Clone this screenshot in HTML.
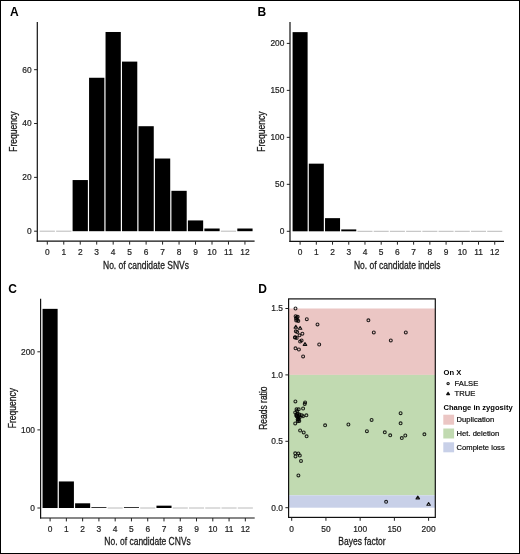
<!DOCTYPE html>
<html><head><meta charset="utf-8"><style>
html,body{margin:0;padding:0;background:#fff;}
body{width:520px;height:554px;overflow:hidden;}
svg{display:block;will-change:transform;}
text{font-family:"Liberation Sans", sans-serif;fill:#1a1a1a;}
.tk{font-size:8.4px;fill:#222;stroke:#222;stroke-width:0.2px;}
.ti{font-size:10.5px;stroke:#1a1a1a;stroke-width:0.28px;}
.lab{font-size:12px;font-weight:bold;fill:#000;}
.lg{font-size:7.6px;fill:#111;stroke:#111;stroke-width:0.22px;}
.lgb{font-size:7.6px;font-weight:bold;fill:#000;}
</style></head><body>
<svg width="520" height="554" viewBox="0 0 520 554">
<rect x="0" y="0" width="520" height="554" fill="#fff"/>
<line x1="39.66" y1="231.2" x2="54.93" y2="231.2" stroke="#a8a8a8" stroke-width="0.8"/>
<line x1="56.13" y1="231.2" x2="71.41" y2="231.2" stroke="#a8a8a8" stroke-width="0.8"/>
<rect x="72.6" y="180.05" width="15.27" height="51.15" fill="#000"/>
<rect x="89.07" y="77.76" width="15.27" height="153.44" fill="#000"/>
<rect x="105.54" y="31.99" width="15.27" height="199.21" fill="#000"/>
<rect x="122.01" y="61.6" width="15.27" height="169.6" fill="#000"/>
<rect x="138.49" y="126.21" width="15.27" height="104.99" fill="#000"/>
<rect x="154.95" y="158.52" width="15.27" height="72.68" fill="#000"/>
<rect x="171.43" y="190.82" width="15.27" height="40.38" fill="#000"/>
<rect x="187.89" y="220.43" width="15.27" height="10.77" fill="#000"/>
<rect x="204.37" y="228.51" width="15.27" height="2.69" fill="#000"/>
<line x1="220.83" y1="231.2" x2="236.1" y2="231.2" stroke="#a8a8a8" stroke-width="0.8"/>
<rect x="237.31" y="228.51" width="15.27" height="2.69" fill="#000"/>
<line x1="37.3" y1="21.9" x2="37.3" y2="241.8" stroke="#111" stroke-width="1.2"/>
<line x1="36.7" y1="241.2" x2="254.6" y2="241.2" stroke="#111" stroke-width="1.2"/>
<line x1="34.1" y1="231.2" x2="37.3" y2="231.2" stroke="#222" stroke-width="1"/>
<text x="31.7" y="234.1" text-anchor="end" class="tk">0</text>
<line x1="34.1" y1="177.36" x2="37.3" y2="177.36" stroke="#222" stroke-width="1"/>
<text x="31.7" y="180.26" text-anchor="end" class="tk">20</text>
<line x1="34.1" y1="123.52" x2="37.3" y2="123.52" stroke="#222" stroke-width="1"/>
<text x="31.7" y="126.42" text-anchor="end" class="tk">40</text>
<line x1="34.1" y1="69.68" x2="37.3" y2="69.68" stroke="#222" stroke-width="1"/>
<text x="31.7" y="72.58" text-anchor="end" class="tk">60</text>
<line x1="47.3" y1="241.2" x2="47.3" y2="244.6" stroke="#222" stroke-width="1"/>
<text x="47.3" y="254.7" text-anchor="middle" class="tk">0</text>
<line x1="63.77" y1="241.2" x2="63.77" y2="244.6" stroke="#222" stroke-width="1"/>
<text x="63.77" y="254.7" text-anchor="middle" class="tk">1</text>
<line x1="80.24" y1="241.2" x2="80.24" y2="244.6" stroke="#222" stroke-width="1"/>
<text x="80.24" y="254.7" text-anchor="middle" class="tk">2</text>
<line x1="96.71" y1="241.2" x2="96.71" y2="244.6" stroke="#222" stroke-width="1"/>
<text x="96.71" y="254.7" text-anchor="middle" class="tk">3</text>
<line x1="113.18" y1="241.2" x2="113.18" y2="244.6" stroke="#222" stroke-width="1"/>
<text x="113.18" y="254.7" text-anchor="middle" class="tk">4</text>
<line x1="129.65" y1="241.2" x2="129.65" y2="244.6" stroke="#222" stroke-width="1"/>
<text x="129.65" y="254.7" text-anchor="middle" class="tk">5</text>
<line x1="146.12" y1="241.2" x2="146.12" y2="244.6" stroke="#222" stroke-width="1"/>
<text x="146.12" y="254.7" text-anchor="middle" class="tk">6</text>
<line x1="162.59" y1="241.2" x2="162.59" y2="244.6" stroke="#222" stroke-width="1"/>
<text x="162.59" y="254.7" text-anchor="middle" class="tk">7</text>
<line x1="179.06" y1="241.2" x2="179.06" y2="244.6" stroke="#222" stroke-width="1"/>
<text x="179.06" y="254.7" text-anchor="middle" class="tk">8</text>
<line x1="195.53" y1="241.2" x2="195.53" y2="244.6" stroke="#222" stroke-width="1"/>
<text x="195.53" y="254.7" text-anchor="middle" class="tk">9</text>
<line x1="212" y1="241.2" x2="212" y2="244.6" stroke="#222" stroke-width="1"/>
<text x="212" y="254.7" text-anchor="middle" class="tk">10</text>
<line x1="228.47" y1="241.2" x2="228.47" y2="244.6" stroke="#222" stroke-width="1"/>
<text x="228.47" y="254.7" text-anchor="middle" class="tk">11</text>
<line x1="244.94" y1="241.2" x2="244.94" y2="244.6" stroke="#222" stroke-width="1"/>
<text x="244.94" y="254.7" text-anchor="middle" class="tk">12</text>
<text transform="translate(146,268.6) scale(0.81,1)" text-anchor="middle" class="ti">No. of candidate SNVs</text>
<text transform="translate(16.7,131.6) rotate(-90) scale(0.81,1)" text-anchor="middle" class="ti">Frequency</text>
<text x="10" y="15.8" class="lab">A</text>
<rect x="292.59" y="32.13" width="15.02" height="199.17" fill="#000"/>
<rect x="308.81" y="163.66" width="15.02" height="67.64" fill="#000"/>
<rect x="325.03" y="218.15" width="15.02" height="13.15" fill="#000"/>
<rect x="341.25" y="229.42" width="15.02" height="1.88" fill="#000"/>
<line x1="357.47" y1="231.3" x2="372.49" y2="231.3" stroke="#a8a8a8" stroke-width="0.8"/>
<line x1="373.69" y1="231.3" x2="388.71" y2="231.3" stroke="#a8a8a8" stroke-width="0.8"/>
<line x1="389.91" y1="231.3" x2="404.93" y2="231.3" stroke="#a8a8a8" stroke-width="0.8"/>
<line x1="406.13" y1="231.3" x2="421.15" y2="231.3" stroke="#a8a8a8" stroke-width="0.8"/>
<line x1="422.35" y1="231.3" x2="437.37" y2="231.3" stroke="#a8a8a8" stroke-width="0.8"/>
<line x1="438.57" y1="231.3" x2="453.59" y2="231.3" stroke="#a8a8a8" stroke-width="0.8"/>
<line x1="454.79" y1="231.3" x2="469.81" y2="231.3" stroke="#a8a8a8" stroke-width="0.8"/>
<line x1="471.01" y1="231.3" x2="486.03" y2="231.3" stroke="#a8a8a8" stroke-width="0.8"/>
<line x1="487.23" y1="231.3" x2="502.25" y2="231.3" stroke="#a8a8a8" stroke-width="0.8"/>
<line x1="290" y1="22" x2="290" y2="241.9" stroke="#111" stroke-width="1.2"/>
<line x1="289.4" y1="241.3" x2="504" y2="241.3" stroke="#111" stroke-width="1.2"/>
<line x1="286.8" y1="231.3" x2="290" y2="231.3" stroke="#222" stroke-width="1"/>
<text x="284.4" y="234.2" text-anchor="end" class="tk">0</text>
<line x1="286.8" y1="184.33" x2="290" y2="184.33" stroke="#222" stroke-width="1"/>
<text x="284.4" y="187.23" text-anchor="end" class="tk">50</text>
<line x1="286.8" y1="137.35" x2="290" y2="137.35" stroke="#222" stroke-width="1"/>
<text x="284.4" y="140.25" text-anchor="end" class="tk">100</text>
<line x1="286.8" y1="90.38" x2="290" y2="90.38" stroke="#222" stroke-width="1"/>
<text x="284.4" y="93.28" text-anchor="end" class="tk">150</text>
<line x1="286.8" y1="43.4" x2="290" y2="43.4" stroke="#222" stroke-width="1"/>
<text x="284.4" y="46.3" text-anchor="end" class="tk">200</text>
<line x1="300.1" y1="241.3" x2="300.1" y2="244.7" stroke="#222" stroke-width="1"/>
<text x="300.1" y="254.8" text-anchor="middle" class="tk">0</text>
<line x1="316.32" y1="241.3" x2="316.32" y2="244.7" stroke="#222" stroke-width="1"/>
<text x="316.32" y="254.8" text-anchor="middle" class="tk">1</text>
<line x1="332.54" y1="241.3" x2="332.54" y2="244.7" stroke="#222" stroke-width="1"/>
<text x="332.54" y="254.8" text-anchor="middle" class="tk">2</text>
<line x1="348.76" y1="241.3" x2="348.76" y2="244.7" stroke="#222" stroke-width="1"/>
<text x="348.76" y="254.8" text-anchor="middle" class="tk">3</text>
<line x1="364.98" y1="241.3" x2="364.98" y2="244.7" stroke="#222" stroke-width="1"/>
<text x="364.98" y="254.8" text-anchor="middle" class="tk">4</text>
<line x1="381.2" y1="241.3" x2="381.2" y2="244.7" stroke="#222" stroke-width="1"/>
<text x="381.2" y="254.8" text-anchor="middle" class="tk">5</text>
<line x1="397.42" y1="241.3" x2="397.42" y2="244.7" stroke="#222" stroke-width="1"/>
<text x="397.42" y="254.8" text-anchor="middle" class="tk">6</text>
<line x1="413.64" y1="241.3" x2="413.64" y2="244.7" stroke="#222" stroke-width="1"/>
<text x="413.64" y="254.8" text-anchor="middle" class="tk">7</text>
<line x1="429.86" y1="241.3" x2="429.86" y2="244.7" stroke="#222" stroke-width="1"/>
<text x="429.86" y="254.8" text-anchor="middle" class="tk">8</text>
<line x1="446.08" y1="241.3" x2="446.08" y2="244.7" stroke="#222" stroke-width="1"/>
<text x="446.08" y="254.8" text-anchor="middle" class="tk">9</text>
<line x1="462.3" y1="241.3" x2="462.3" y2="244.7" stroke="#222" stroke-width="1"/>
<text x="462.3" y="254.8" text-anchor="middle" class="tk">10</text>
<line x1="478.52" y1="241.3" x2="478.52" y2="244.7" stroke="#222" stroke-width="1"/>
<text x="478.52" y="254.8" text-anchor="middle" class="tk">11</text>
<line x1="494.74" y1="241.3" x2="494.74" y2="244.7" stroke="#222" stroke-width="1"/>
<text x="494.74" y="254.8" text-anchor="middle" class="tk">12</text>
<text transform="translate(397.2,268.6) scale(0.81,1)" text-anchor="middle" class="ti">No. of candidate indels</text>
<text transform="translate(265.1,131.6) rotate(-90) scale(0.81,1)" text-anchor="middle" class="ti">Frequency</text>
<text x="257.4" y="15.7" class="lab">B</text>
<rect x="42.56" y="308.85" width="15.07" height="199.16" fill="#000"/>
<rect x="58.84" y="481.45" width="15.07" height="26.55" fill="#000"/>
<rect x="75.11" y="503.31" width="15.07" height="4.69" fill="#000"/>
<rect x="91.38" y="507.22" width="15.07" height="0.78" fill="#000"/>
<line x1="107.65" y1="508" x2="122.72" y2="508" stroke="#a8a8a8" stroke-width="0.8"/>
<rect x="123.91" y="507.22" width="15.07" height="0.78" fill="#000"/>
<line x1="140.19" y1="508" x2="155.25" y2="508" stroke="#a8a8a8" stroke-width="0.8"/>
<rect x="156.46" y="505.66" width="15.07" height="2.34" fill="#000"/>
<line x1="172.72" y1="508" x2="187.79" y2="508" stroke="#a8a8a8" stroke-width="0.8"/>
<line x1="189" y1="508" x2="204.06" y2="508" stroke="#a8a8a8" stroke-width="0.8"/>
<line x1="205.26" y1="508" x2="220.33" y2="508" stroke="#a8a8a8" stroke-width="0.8"/>
<line x1="221.53" y1="508" x2="236.6" y2="508" stroke="#a8a8a8" stroke-width="0.8"/>
<line x1="237.81" y1="508" x2="252.88" y2="508" stroke="#a8a8a8" stroke-width="0.8"/>
<line x1="40.6" y1="298.8" x2="40.6" y2="518.6" stroke="#111" stroke-width="1.2"/>
<line x1="40" y1="518" x2="254.7" y2="518" stroke="#111" stroke-width="1.2"/>
<line x1="37.4" y1="508" x2="40.6" y2="508" stroke="#222" stroke-width="1"/>
<text x="35" y="510.9" text-anchor="end" class="tk">0</text>
<line x1="37.4" y1="429.9" x2="40.6" y2="429.9" stroke="#222" stroke-width="1"/>
<text x="35" y="432.8" text-anchor="end" class="tk">100</text>
<line x1="37.4" y1="351.8" x2="40.6" y2="351.8" stroke="#222" stroke-width="1"/>
<text x="35" y="354.7" text-anchor="end" class="tk">200</text>
<line x1="50.1" y1="518" x2="50.1" y2="521.4" stroke="#222" stroke-width="1"/>
<text x="50.1" y="531.5" text-anchor="middle" class="tk">0</text>
<line x1="66.37" y1="518" x2="66.37" y2="521.4" stroke="#222" stroke-width="1"/>
<text x="66.37" y="531.5" text-anchor="middle" class="tk">1</text>
<line x1="82.64" y1="518" x2="82.64" y2="521.4" stroke="#222" stroke-width="1"/>
<text x="82.64" y="531.5" text-anchor="middle" class="tk">2</text>
<line x1="98.91" y1="518" x2="98.91" y2="521.4" stroke="#222" stroke-width="1"/>
<text x="98.91" y="531.5" text-anchor="middle" class="tk">3</text>
<line x1="115.18" y1="518" x2="115.18" y2="521.4" stroke="#222" stroke-width="1"/>
<text x="115.18" y="531.5" text-anchor="middle" class="tk">4</text>
<line x1="131.45" y1="518" x2="131.45" y2="521.4" stroke="#222" stroke-width="1"/>
<text x="131.45" y="531.5" text-anchor="middle" class="tk">5</text>
<line x1="147.72" y1="518" x2="147.72" y2="521.4" stroke="#222" stroke-width="1"/>
<text x="147.72" y="531.5" text-anchor="middle" class="tk">6</text>
<line x1="163.99" y1="518" x2="163.99" y2="521.4" stroke="#222" stroke-width="1"/>
<text x="163.99" y="531.5" text-anchor="middle" class="tk">7</text>
<line x1="180.26" y1="518" x2="180.26" y2="521.4" stroke="#222" stroke-width="1"/>
<text x="180.26" y="531.5" text-anchor="middle" class="tk">8</text>
<line x1="196.53" y1="518" x2="196.53" y2="521.4" stroke="#222" stroke-width="1"/>
<text x="196.53" y="531.5" text-anchor="middle" class="tk">9</text>
<line x1="212.8" y1="518" x2="212.8" y2="521.4" stroke="#222" stroke-width="1"/>
<text x="212.8" y="531.5" text-anchor="middle" class="tk">10</text>
<line x1="229.07" y1="518" x2="229.07" y2="521.4" stroke="#222" stroke-width="1"/>
<text x="229.07" y="531.5" text-anchor="middle" class="tk">11</text>
<line x1="245.34" y1="518" x2="245.34" y2="521.4" stroke="#222" stroke-width="1"/>
<text x="245.34" y="531.5" text-anchor="middle" class="tk">12</text>
<text transform="translate(147.6,545.4) scale(0.81,1)" text-anchor="middle" class="ti">No. of candidate CNVs</text>
<text transform="translate(16.2,408.2) rotate(-90) scale(0.81,1)" text-anchor="middle" class="ti">Frequency</text>
<text x="8.15" y="292.6" class="lab">C</text>
<rect x="288.6" y="308.5" width="146.7" height="66.4" fill="#ebc6c4"/>
<rect x="288.6" y="374.9" width="146.7" height="120.4" fill="#c1dab1"/>
<rect x="288.6" y="495.3" width="146.7" height="12.4" fill="#c8d0e8"/>
<circle cx="295.5" cy="308.5" r="1.45" fill="none" stroke="#000" stroke-opacity="0.85" stroke-width="1.1"/>
<circle cx="296.8" cy="317.3" r="1.45" fill="none" stroke="#000" stroke-opacity="0.85" stroke-width="1.1"/>
<circle cx="296.2" cy="320.5" r="1.45" fill="none" stroke="#000" stroke-opacity="0.85" stroke-width="1.1"/>
<circle cx="298.3" cy="321" r="1.45" fill="none" stroke="#000" stroke-opacity="0.85" stroke-width="1.1"/>
<circle cx="295.6" cy="316.2" r="1.45" fill="none" stroke="#000" stroke-opacity="0.85" stroke-width="1.1"/>
<circle cx="295.3" cy="337.2" r="1.45" fill="none" stroke="#000" stroke-opacity="0.85" stroke-width="1.1"/>
<circle cx="297.7" cy="316.7" r="1.45" fill="none" stroke="#000" stroke-opacity="0.85" stroke-width="1.1"/>
<circle cx="297.4" cy="319.9" r="1.45" fill="none" stroke="#000" stroke-opacity="0.85" stroke-width="1.1"/>
<circle cx="296" cy="318.5" r="1.45" fill="none" stroke="#000" stroke-opacity="0.85" stroke-width="1.1"/>
<circle cx="306.8" cy="319.2" r="1.45" fill="none" stroke="#000" stroke-opacity="0.85" stroke-width="1.1"/>
<circle cx="317.5" cy="324.4" r="1.45" fill="none" stroke="#000" stroke-opacity="0.85" stroke-width="1.1"/>
<circle cx="295.8" cy="331.3" r="1.45" fill="none" stroke="#000" stroke-opacity="0.85" stroke-width="1.1"/>
<circle cx="297.2" cy="332.1" r="1.45" fill="none" stroke="#000" stroke-opacity="0.85" stroke-width="1.1"/>
<circle cx="299.5" cy="335.3" r="1.45" fill="none" stroke="#000" stroke-opacity="0.85" stroke-width="1.1"/>
<circle cx="302.4" cy="333.7" r="1.45" fill="none" stroke="#000" stroke-opacity="0.85" stroke-width="1.1"/>
<circle cx="294.9" cy="337.6" r="1.45" fill="none" stroke="#000" stroke-opacity="0.85" stroke-width="1.1"/>
<circle cx="296.7" cy="337.9" r="1.45" fill="none" stroke="#000" stroke-opacity="0.85" stroke-width="1.1"/>
<circle cx="300.1" cy="341.6" r="1.45" fill="none" stroke="#000" stroke-opacity="0.85" stroke-width="1.1"/>
<circle cx="301.6" cy="340.5" r="1.45" fill="none" stroke="#000" stroke-opacity="0.85" stroke-width="1.1"/>
<circle cx="295.5" cy="348.3" r="1.45" fill="none" stroke="#000" stroke-opacity="0.85" stroke-width="1.1"/>
<circle cx="298.9" cy="349.5" r="1.45" fill="none" stroke="#000" stroke-opacity="0.85" stroke-width="1.1"/>
<circle cx="303.1" cy="356.4" r="1.45" fill="none" stroke="#000" stroke-opacity="0.85" stroke-width="1.1"/>
<circle cx="319.2" cy="344.5" r="1.45" fill="none" stroke="#000" stroke-opacity="0.85" stroke-width="1.1"/>
<circle cx="368.4" cy="320.3" r="1.45" fill="none" stroke="#000" stroke-opacity="0.85" stroke-width="1.1"/>
<circle cx="373.8" cy="332.4" r="1.45" fill="none" stroke="#000" stroke-opacity="0.85" stroke-width="1.1"/>
<circle cx="390.8" cy="340.4" r="1.45" fill="none" stroke="#000" stroke-opacity="0.85" stroke-width="1.1"/>
<circle cx="405.8" cy="332.4" r="1.45" fill="none" stroke="#000" stroke-opacity="0.85" stroke-width="1.1"/>
<circle cx="295.4" cy="401.4" r="1.45" fill="none" stroke="#000" stroke-opacity="0.85" stroke-width="1.1"/>
<circle cx="305.1" cy="402.4" r="1.45" fill="none" stroke="#000" stroke-opacity="0.85" stroke-width="1.1"/>
<circle cx="304.7" cy="404.1" r="1.45" fill="none" stroke="#000" stroke-opacity="0.85" stroke-width="1.1"/>
<circle cx="296.5" cy="409.3" r="1.45" fill="none" stroke="#000" stroke-opacity="0.85" stroke-width="1.1"/>
<circle cx="298.7" cy="409.3" r="1.45" fill="none" stroke="#000" stroke-opacity="0.85" stroke-width="1.1"/>
<circle cx="303.1" cy="408.5" r="1.45" fill="none" stroke="#000" stroke-opacity="0.85" stroke-width="1.1"/>
<circle cx="295.2" cy="412.4" r="1.45" fill="none" stroke="#000" stroke-opacity="0.85" stroke-width="1.1"/>
<circle cx="297.6" cy="413.6" r="1.45" fill="none" stroke="#000" stroke-opacity="0.85" stroke-width="1.1"/>
<circle cx="299.5" cy="414.6" r="1.45" fill="none" stroke="#000" stroke-opacity="0.85" stroke-width="1.1"/>
<circle cx="296.7" cy="416.3" r="1.45" fill="none" stroke="#000" stroke-opacity="0.85" stroke-width="1.1"/>
<circle cx="298.4" cy="418.7" r="1.45" fill="none" stroke="#000" stroke-opacity="0.85" stroke-width="1.1"/>
<circle cx="299.3" cy="421" r="1.45" fill="none" stroke="#000" stroke-opacity="0.85" stroke-width="1.1"/>
<circle cx="301.8" cy="415.2" r="1.45" fill="none" stroke="#000" stroke-opacity="0.85" stroke-width="1.1"/>
<circle cx="303" cy="416.3" r="1.45" fill="none" stroke="#000" stroke-opacity="0.85" stroke-width="1.1"/>
<circle cx="306.4" cy="415.3" r="1.45" fill="none" stroke="#000" stroke-opacity="0.85" stroke-width="1.1"/>
<circle cx="296.5" cy="414.5" r="1.45" fill="none" stroke="#000" stroke-opacity="0.85" stroke-width="1.1"/>
<circle cx="298" cy="416.6" r="1.45" fill="none" stroke="#000" stroke-opacity="0.85" stroke-width="1.1"/>
<circle cx="297.6" cy="419.6" r="1.45" fill="none" stroke="#000" stroke-opacity="0.85" stroke-width="1.1"/>
<circle cx="299.6" cy="417.6" r="1.45" fill="none" stroke="#000" stroke-opacity="0.85" stroke-width="1.1"/>
<circle cx="297" cy="411" r="1.45" fill="none" stroke="#000" stroke-opacity="0.85" stroke-width="1.1"/>
<circle cx="296.3" cy="415.4" r="1.45" fill="none" stroke="#000" stroke-opacity="0.85" stroke-width="1.1"/>
<circle cx="298.5" cy="419.8" r="1.45" fill="none" stroke="#000" stroke-opacity="0.85" stroke-width="1.1"/>
<circle cx="297.8" cy="421.2" r="1.45" fill="none" stroke="#000" stroke-opacity="0.85" stroke-width="1.1"/>
<circle cx="299" cy="416" r="1.45" fill="none" stroke="#000" stroke-opacity="0.85" stroke-width="1.1"/>
<circle cx="295.2" cy="423.4" r="1.45" fill="none" stroke="#000" stroke-opacity="0.85" stroke-width="1.1"/>
<circle cx="300.1" cy="430.5" r="1.45" fill="none" stroke="#000" stroke-opacity="0.85" stroke-width="1.1"/>
<circle cx="303.7" cy="432.4" r="1.45" fill="none" stroke="#000" stroke-opacity="0.85" stroke-width="1.1"/>
<circle cx="306.6" cy="436.3" r="1.45" fill="none" stroke="#000" stroke-opacity="0.85" stroke-width="1.1"/>
<circle cx="295.2" cy="453.3" r="1.45" fill="none" stroke="#000" stroke-opacity="0.85" stroke-width="1.1"/>
<circle cx="298.4" cy="453.4" r="1.45" fill="none" stroke="#000" stroke-opacity="0.85" stroke-width="1.1"/>
<circle cx="295.5" cy="456.4" r="1.45" fill="none" stroke="#000" stroke-opacity="0.85" stroke-width="1.1"/>
<circle cx="299.8" cy="455.5" r="1.45" fill="none" stroke="#000" stroke-opacity="0.85" stroke-width="1.1"/>
<circle cx="301" cy="460.9" r="1.45" fill="none" stroke="#000" stroke-opacity="0.85" stroke-width="1.1"/>
<circle cx="298.4" cy="475.4" r="1.45" fill="none" stroke="#000" stroke-opacity="0.85" stroke-width="1.1"/>
<circle cx="325.1" cy="425.3" r="1.45" fill="none" stroke="#000" stroke-opacity="0.85" stroke-width="1.1"/>
<circle cx="348.4" cy="424.5" r="1.45" fill="none" stroke="#000" stroke-opacity="0.85" stroke-width="1.1"/>
<circle cx="371.6" cy="419.9" r="1.45" fill="none" stroke="#000" stroke-opacity="0.85" stroke-width="1.1"/>
<circle cx="366.9" cy="431.2" r="1.45" fill="none" stroke="#000" stroke-opacity="0.85" stroke-width="1.1"/>
<circle cx="400.6" cy="413.2" r="1.45" fill="none" stroke="#000" stroke-opacity="0.85" stroke-width="1.1"/>
<circle cx="400.6" cy="423.3" r="1.45" fill="none" stroke="#000" stroke-opacity="0.85" stroke-width="1.1"/>
<circle cx="384.8" cy="432.3" r="1.45" fill="none" stroke="#000" stroke-opacity="0.85" stroke-width="1.1"/>
<circle cx="390.2" cy="435.3" r="1.45" fill="none" stroke="#000" stroke-opacity="0.85" stroke-width="1.1"/>
<circle cx="401.8" cy="438.1" r="1.45" fill="none" stroke="#000" stroke-opacity="0.85" stroke-width="1.1"/>
<circle cx="405.3" cy="435.5" r="1.45" fill="none" stroke="#000" stroke-opacity="0.85" stroke-width="1.1"/>
<circle cx="424.4" cy="434.3" r="1.45" fill="none" stroke="#000" stroke-opacity="0.85" stroke-width="1.1"/>
<circle cx="386.1" cy="501.8" r="1.45" fill="none" stroke="#000" stroke-opacity="0.85" stroke-width="1.1"/>
<path d="M295.8 325.32L297.55 328.08L294.05 328.08Z" fill="none" stroke="#111" stroke-width="1.1" stroke-linejoin="round"/>
<path d="M300.1 326.53L301.85 329.28L298.35 329.28Z" fill="none" stroke="#111" stroke-width="1.1" stroke-linejoin="round"/>
<path d="M305 342.62L306.75 345.38L303.25 345.38Z" fill="none" stroke="#111" stroke-width="1.1" stroke-linejoin="round"/>
<path d="M417.8 496.12L419.55 498.88L416.05 498.88Z" fill="none" stroke="#111" stroke-width="1.1" stroke-linejoin="round"/>
<path d="M428.6 502.53L430.35 505.28L426.85 505.28Z" fill="none" stroke="#111" stroke-width="1.1" stroke-linejoin="round"/>
<rect x="288.6" y="298.9" width="146.7" height="218.5" fill="none" stroke="#111" stroke-width="1.2"/>
<line x1="285.4" y1="507.7" x2="288.6" y2="507.7" stroke="#222" stroke-width="1"/>
<text x="283" y="510.6" text-anchor="end" class="tk">0.0</text>
<line x1="285.4" y1="441.3" x2="288.6" y2="441.3" stroke="#222" stroke-width="1"/>
<text x="283" y="444.2" text-anchor="end" class="tk">0.5</text>
<line x1="285.4" y1="374.9" x2="288.6" y2="374.9" stroke="#222" stroke-width="1"/>
<text x="283" y="377.8" text-anchor="end" class="tk">1.0</text>
<line x1="285.4" y1="308.5" x2="288.6" y2="308.5" stroke="#222" stroke-width="1"/>
<text x="283" y="311.4" text-anchor="end" class="tk">1.5</text>
<line x1="291.7" y1="517.4" x2="291.7" y2="520.8" stroke="#222" stroke-width="1"/>
<text x="291.7" y="531.9" text-anchor="middle" class="tk">0</text>
<line x1="325.93" y1="517.4" x2="325.93" y2="520.8" stroke="#222" stroke-width="1"/>
<text x="325.93" y="531.9" text-anchor="middle" class="tk">50</text>
<line x1="360.15" y1="517.4" x2="360.15" y2="520.8" stroke="#222" stroke-width="1"/>
<text x="360.15" y="531.9" text-anchor="middle" class="tk">100</text>
<line x1="394.38" y1="517.4" x2="394.38" y2="520.8" stroke="#222" stroke-width="1"/>
<text x="394.38" y="531.9" text-anchor="middle" class="tk">150</text>
<line x1="428.6" y1="517.4" x2="428.6" y2="520.8" stroke="#222" stroke-width="1"/>
<text x="428.6" y="531.9" text-anchor="middle" class="tk">200</text>
<text transform="translate(361.95,545.3) scale(0.81,1)" text-anchor="middle" class="ti">Bayes factor</text>
<text transform="translate(267.2,408.15) rotate(-90) scale(0.81,1)" text-anchor="middle" class="ti">Reads ratio</text>
<text x="258.2" y="292.9" class="lab">D</text>
<text x="443.5" y="374.6" class="lgb">On X</text>
<circle cx="448.1" cy="383.6" r="1.15" fill="none" stroke="#111" stroke-width="1.1"/>
<text x="454.6" y="385.9" class="lg">FALSE</text>
<path d="M448.1 392.3L449.55 394.58L446.65 394.58Z" fill="none" stroke="#111" stroke-width="1.1" stroke-linejoin="round"/>
<text x="454.6" y="395.7" class="lg">TRUE</text>
<text x="443.5" y="410" class="lgb">Change in zygosity</text>
<rect x="443.3" y="414.7" width="10.8" height="10" fill="#ebc6c4"/>
<text x="456.6" y="422.3" class="lg">Duplication</text>
<rect x="443.3" y="428.5" width="10.8" height="10" fill="#c1dab1"/>
<text x="456.6" y="436.1" class="lg">Het. deletion</text>
<rect x="443.3" y="442.3" width="10.8" height="10" fill="#c8d0e8"/>
<text x="456.6" y="449.9" class="lg">Complete loss</text>
<rect x="0.5" y="0.5" width="519" height="553" fill="none" stroke="#000" stroke-width="1"/>
</svg>
</body></html>
